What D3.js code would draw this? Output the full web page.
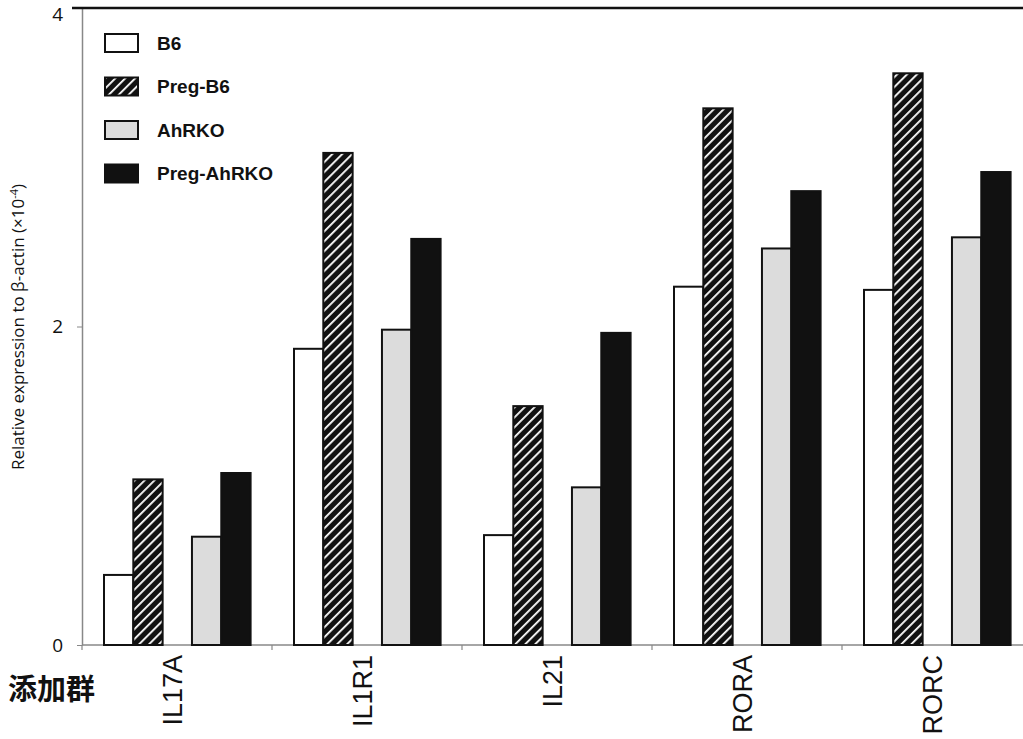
<!DOCTYPE html>
<html>
<head>
<meta charset="utf-8">
<script src="https://cdn.jsdelivr.net/npm/d3@7"></script>
<style>
  body { margin: 0; background: #fff; }
  svg { display: block; }
</style>
</head>
<body>
<div id="chart"></div>
<script>
// Genes and treatment groups
const genes = ["IL17A", "IL1R1", "IL21", "RORA", "RORC"];
const groups = ["B6", "Preg-B6", "AhRKO", "Preg-AhRKO"];

// Relative expression (x10^-4), one array per group, in gene order
const b6 = [0.44, 1.86, 0.69, 2.25, 2.23];
const pregB6 = [1.04, 3.09, 1.50, 3.37, 3.59];
const ahrko = [0.68, 1.98, 0.99, 2.49, 2.56];
const pregAhrko = [1.08, 2.55, 1.96, 2.85, 2.97];

const yTicks = [0, 2, 4];

const seriesValues = { "B6": b6, "Preg-B6": pregB6, "AhRKO": ahrko, "Preg-AhRKO": pregAhrko };

const W = 1023, H = 739;
const svg = d3.select("#chart").append("svg")
    .attr("width", W)
    .attr("height", H);

// Hatch pattern for Preg-B6
const defs = svg.append("defs");
const hatch = defs.append("pattern")
    .attr("id", "hatch")
    .attr("patternUnits", "userSpaceOnUse")
    .attr("width", 7)
    .attr("height", 7)
    .attr("patternTransform", "rotate(45)");
hatch.append("rect").attr("width", 7).attr("height", 7).attr("fill", "#111");
hatch.append("rect").attr("x", 0).attr("width", 1.8).attr("height", 7).attr("fill", "#fff");

const fills = { "B6": "#fff", "Preg-B6": "url(#hatch)", "AhRKO": "#dcdcdc", "Preg-AhRKO": "#111" };

// Scales
const x = d3.scaleBand().domain(genes).range([82, 1032]);
// slot "gap" separates the two pairs of bars
const xInner = d3.scaleBand()
    .domain(["B6", "Preg-B6", "gap", "AhRKO", "Preg-AhRKO"])
    .range([22, 168.6]);
const y = d3.scaleLinear().domain([0, 4]).range([645, 8]);

// Y axis
const yAxis = svg.append("g")
    .attr("transform", "translate(82,0)")
    .call(d3.axisLeft(y).tickValues(yTicks).tickFormat(d3.format("d"))
        .tickSize(5).tickPadding(14).tickSizeOuter(0));
yAxis.select(".domain").attr("stroke", "#888").attr("stroke-width", 1.5);
yAxis.selectAll(".tick line").attr("stroke", "#888");
yAxis.selectAll(".tick text")
    .style("font-family", "'Open Sans', 'Liberation Sans', sans-serif")
    .style("font-size", "19px")
    .attr("fill", "#111");
// keep the top label inside the picture
yAxis.selectAll(".tick text").filter(d => d === 4).attr("dy", "0.65em");

// X axis line with ticks at band boundaries
svg.append("line")
    .attr("x1", 82).attr("x2", W)
    .attr("y1", y(0)).attr("y2", y(0))
    .attr("stroke", "#888").attr("stroke-width", 1.5);
svg.selectAll(".xtick")
    .data(genes)
    .enter().append("line")
    .attr("class", "xtick")
    .attr("x1", d => x(d)).attr("x2", d => x(d))
    .attr("y1", y(0)).attr("y2", y(0) + 5)
    .attr("stroke", "#888").attr("stroke-width", 1.2);

// Top frame line
svg.append("line")
    .attr("x1", 72).attr("x2", W)
    .attr("y1", y(4)).attr("y2", y(4))
    .attr("stroke", "#111").attr("stroke-width", 2.5);

// Bars
const barData = [];
genes.forEach((g, i) => {
    groups.forEach(s => barData.push({ gene: g, group: s, value: seriesValues[s][i] }));
});

svg.selectAll(".bar")
    .data(barData)
    .enter().append("rect")
    .attr("class", "bar")
    .attr("x", d => x(d.gene) + xInner(d.group))
    .attr("y", d => y(d.value))
    .attr("width", xInner.bandwidth())
    .attr("height", d => y(0) - y(d.value))
    .attr("fill", d => fills[d.group])
    .attr("stroke", "#111")
    .attr("stroke-width", 2);

// Gene labels (rotated)
svg.selectAll(".gene-label")
    .data(genes)
    .enter().append("text")
    .attr("class", "gene-label")
    .attr("transform", d => `translate(${x(d) + x.bandwidth() / 2 - 4}, 655) rotate(-90)`)
    .attr("text-anchor", "end")
    .attr("dy", "0.35em")
    .style("font-family", "'Liberation Sans', Arial, sans-serif")
    .style("font-size", "27px")
    .attr("fill", "#111")
    .text(d => d);

// Group label
svg.append("text")
    .attr("x", 8)
    .attr("y", 700)
    .style("font-family", "'Noto Sans CJK JP', sans-serif")
    .style("font-size", "29px")
    .style("font-weight", "bold")
    .attr("fill", "#111")
    .text("添加群");

// Y axis label
const yLabel = svg.append("text")
    .attr("transform", "translate(24,327) rotate(-90)")
    .attr("text-anchor", "middle")
    .style("font-family", "'Open Sans', 'Liberation Sans', sans-serif")
    .style("font-size", "17px")
    .attr("fill", "#111");
yLabel.append("tspan").text("Relative expression to β-actin (×10");
yLabel.append("tspan").attr("dy", -6).style("font-size", "11px").text("-4");
yLabel.append("tspan").attr("dy", 6).text(")");

// Legend
const legend = svg.selectAll(".legend")
    .data(groups)
    .enter().append("g")
    .attr("class", "legend")
    .attr("transform", (d, i) => `translate(105, ${34 + i * 43.5})`);
legend.append("rect")
    .attr("width", 33)
    .attr("height", 18)
    .attr("fill", d => fills[d])
    .attr("stroke", "#111")
    .attr("stroke-width", 2);
legend.append("text")
    .attr("x", 52)
    .attr("y", 9)
    .attr("dy", "0.35em")
    .style("font-family", "'Liberation Sans', Arial, sans-serif")
    .style("font-size", "19px")
    .style("font-weight", "bold")
    .attr("fill", "#111")
    .text(d => d);
</script>
</body>
</html>
